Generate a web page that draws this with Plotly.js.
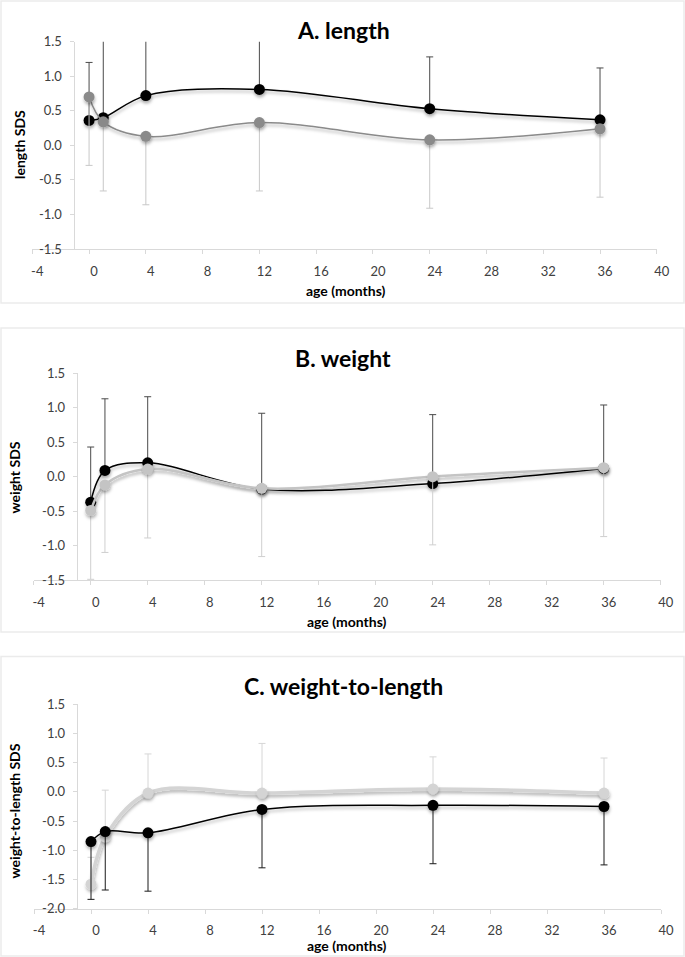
<!DOCTYPE html>
<html><head><meta charset="utf-8">
<script src="https://cdn.plot.ly/plotly-3.0.1.min.js"></script>
<style>html,body{margin:0;padding:0;background:#fff}#chart{width:685px;height:957px}</style>
</head><body><div id="chart"></div>
<script>
// ---------- data ----------
const ages = [0, 1, 4, 12, 24, 36];
const xTickVals = [-4, 0, 4, 8, 12, 16, 20, 24, 28, 32, 36, 40];
const xTickText = ['-4', '0', '4', '8', '12', '16', '20', '24', '28', '32', '36', '40'];
const yTickValsAB = [-1.5, -1.0, -0.5, 0.0, 0.5, 1.0, 1.5];
const yTickTextAB = ['-1.5', '-1.0', '-0.5', '0.0', '0.5', '1.0', '1.5'];
const yTickValsC = [-2.0, -1.5, -1.0, -0.5, 0.0, 0.5, 1.0, 1.5];
const yTickTextC = ['-2.0', '-1.5', '-1.0', '-0.5', '0.0', '0.5', '1.0', '1.5'];

// A. length
const lengthBlack = [0.36, 0.40, 0.72, 0.81, 0.53, 0.37];
const lengthBlackErrUp = [0.84, 1.30, 1.00, 0.90, 0.75, 0.75];
const lengthGray = [0.70, 0.34, 0.13, 0.33, 0.08, 0.24];
const lengthGrayErrDown = [0.99, 1.00, 0.99, 0.99, 0.99, 0.99];

// B. weight
const weightBlack = [-0.37, 0.09, 0.20, -0.18, -0.10, 0.12];
const weightBlackErrUp = [0.80, 1.04, 0.96, 1.10, 1.00, 0.92];
const weightGray = [-0.49, -0.12, 0.11, -0.17, 0.00, 0.13];
const weightGrayErrDown = [1.00, 0.98, 1.00, 0.99, 0.99, 1.00];

// C. weight-to-length
const wflBlack = [-0.85, -0.68, -0.70, -0.30, -0.23, -0.25];
const wflBlackErrDown = [0.99, 1.00, 1.00, 1.00, 1.00, 1.00];
const wflGray = [-1.58, -0.77, -0.02, -0.02, 0.05, -0.02];
const wflGrayErrUp = [0.46, 0.80, 0.67, 0.85, 0.55, 0.60];

const zeros = ages.map(() => 0);

// ---------- helpers (layout positions in pixels) ----------
const W = 685, H = 957;
const P = x => x / W;
const Q = y => 1 - y / H;

function series(y, up, down, xa, ya, color, lw, msize, ecolor) {
  return {
    type: 'scatter', mode: 'lines+markers', x: ages, y: y, xaxis: xa, yaxis: ya,
    line: {color: color, width: lw, shape: 'spline', smoothing: 1},
    marker: {color: color, size: msize},
    error_y: {type: 'data', symmetric: false, array: up, arrayminus: down,
      color: ecolor, thickness: 1, width: 3.5, visible: true},
    showlegend: false, hoverinfo: 'skip', cliponaxis: true
  };
}

const traces = [
  series(lengthBlack, lengthBlackErrUp, zeros, 'x', 'y', '#000000', 1.5, 11, '#4a4a4a'),
  series(lengthGray, zeros, lengthGrayErrDown, 'x', 'y', '#8a8a8a', 1.5, 11, '#c8c8c8'),
  series(weightBlack, weightBlackErrUp, zeros, 'x2', 'y2', '#000000', 1.5, 11, '#4a4a4a'),
  series(weightGray, zeros, weightGrayErrDown, 'x2', 'y2', '#c4c4c4', 2.5, 11, '#cfcfcf'),
  series(wflGray, wflGrayErrUp, zeros, 'x3', 'y3', '#d4d4d4', 3.5, 11, '#d6d6d6'),
  series(wflBlack, zeros, wflBlackErrDown, 'x3', 'y3', '#000000', 1.5, 11, '#1a1a1a')
];

const tickFont = {family: 'Lato, "Open Sans", sans-serif', size: 13, color: '#404040'};
function xaxisDef(x0, x1, anchor) {
  return {
    domain: [P(x0), P(x1)], anchor: anchor, range: [-4, 40],
    tickmode: 'array', tickvals: xTickVals, ticktext: xTickText,
    showgrid: false, zeroline: false, showline: true, linecolor: '#d9d9d9', linewidth: 1,
    ticks: 'outside', ticklen: 4, tickcolor: '#d9d9d9', tickwidth: 1,
    tickfont: tickFont, ticklabelshift: 5, ticklabelstandoff: 6, fixedrange: true
  };
}
function yaxisDef(yTop, yBot, pos, range, tv, tt) {
  return {
    domain: [Q(yBot), Q(yTop)], anchor: 'free', position: P(pos), range: range,
    tickmode: 'array', tickvals: tv, ticktext: tt,
    showgrid: false, zeroline: false, showline: true, linecolor: '#d9d9d9', linewidth: 1,
    ticks: 'outside', ticklen: 4, tickcolor: '#d9d9d9', tickwidth: 1,
    tickfont: tickFont, ticklabelstandoff: 5, fixedrange: true
  };
}

const titleFont = {family: 'Lato, "Open Sans", sans-serif', size: 23, color: '#000', weight: 'bold'};
const axFont = {family: 'Lato, "Open Sans", sans-serif', size: 14, color: '#000', weight: 'bold'};
function ann(text, x, y, font, angle) {
  return {text: text, xref: 'paper', yref: 'paper', x: P(x), y: Q(y), xanchor: 'center', yanchor: 'middle',
    showarrow: false, font: font, textangle: angle || 0};
}

const layout = {
  width: W, height: H, margin: {l: 0, r: 0, t: 0, b: 0},
  paper_bgcolor: '#ffffff', plot_bgcolor: 'rgba(0,0,0,0)', showlegend: false,
  xaxis: xaxisDef(32.3, 656.8, 'y'),
  yaxis: yaxisDef(41.7, 249, 73.5, [-1.5, 1.5], yTickValsAB, yTickTextAB),
  xaxis2: xaxisDef(33.7, 660.7, 'y2'),
  yaxis2: yaxisDef(373.3, 580, 76.7, [-1.5, 1.5], yTickValsAB, yTickTextAB),
  xaxis3: xaxisDef(34, 661, 'y3'),
  yaxis3: yaxisDef(704.3, 908.7, 76.7, [-2.0, 1.5], yTickValsC, yTickTextC),
  shapes: [
    {type: 'rect', xref: 'paper', yref: 'paper', x0: P(1), x1: P(684), y0: Q(303), y1: Q(1), line: {color: '#ebebeb', width: 1.5}, layer: 'below'},
    {type: 'rect', xref: 'paper', yref: 'paper', x0: P(1), x1: P(684), y0: Q(632), y1: Q(328), line: {color: '#ebebeb', width: 1.5}, layer: 'below'},
    {type: 'rect', xref: 'paper', yref: 'paper', x0: P(1), x1: P(684), y0: Q(956), y1: Q(656.5), line: {color: '#ebebeb', width: 1.5}, layer: 'below'}
  ],
  annotations: [
    ann('A. length', 343, 30, titleFont),
    ann('B. weight', 343, 358, titleFont),
    ann('C. weight-to-length', 343.5, 686, titleFont),
    ann('age (months)', 346, 291, axFont),
    ann('age (months)', 347, 621.5, axFont),
    ann('age (months)', 347, 945, axFont),
    ann('length SDS', 20, 145, axFont, -90),
    ann('weight SDS', 14, 477.5, axFont, -90),
    ann('weight-to-length SDS', 14, 811.5, axFont, -90)
  ]
};

Plotly.newPlot('chart', traces, layout, {staticPlot: true, displayModeBar: false}).then(gd => {
  const ns = 'http://www.w3.org/2000/svg';
  const svg = gd.querySelector('svg.main-svg');
  let defs = svg.querySelector('defs');
  if (!defs) { defs = document.createElementNS(ns, 'defs'); svg.insertBefore(defs, svg.firstChild); }
  const f = document.createElementNS(ns, 'filter');
  f.setAttribute('id', 'excelShadow');
  f.setAttribute('filterUnits', 'userSpaceOnUse');
  f.setAttribute('x', '-200'); f.setAttribute('y', '-200');
  f.setAttribute('width', '1200'); f.setAttribute('height', '1400');
  const ds = document.createElementNS(ns, 'feDropShadow');
  ds.setAttribute('dx', '0.5'); ds.setAttribute('dy', '2.5');
  ds.setAttribute('stdDeviation', '1.4');
  ds.setAttribute('flood-color', '#000'); ds.setAttribute('flood-opacity', '0.3');
  f.appendChild(ds); defs.appendChild(f);
  gd.querySelectorAll('.scatterlayer .trace .js-line, .scatterlayer .trace .points path')
    .forEach(p => p.setAttribute('filter', 'url(#excelShadow)'));
});
</script>
</body></html>
